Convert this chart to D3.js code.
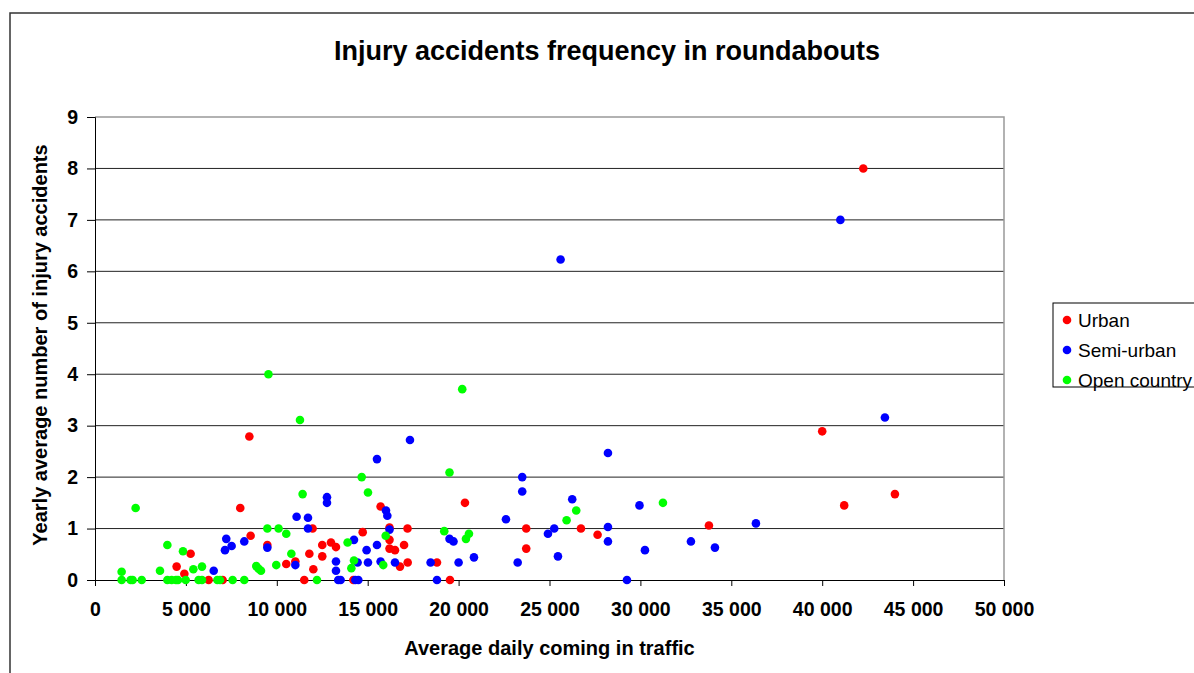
<!DOCTYPE html>
<script src="https://d3js.org/d3.v7.min.js"></script>
<body style="margin: 0; background: #fff;">
<svg id="chart" width="1194" height="673"></svg>
</body>

<style>
  text { font-family: "Liberation Sans", Arial, sans-serif; }
  .tick text { font-weight: bold; font-size: 19.5px; fill: #000; }
</style>

<script>

// traffic (vehicles/day), yearly accidents
var urban = [
  [8490, 2.79], [7990, 1.40], [11970, 1.00], [8560, 0.86], [5260, 0.51], [9480, 0.68],
  [11020, 0.36], [10520, 0.31], [11790, 0.51], [12500, 0.68], [12500, 0.46], [12980, 0.73],
  [13255, 0.64], [12010, 0.21], [4490, 0.26], [4915, 0.12], [6250, 0], [7020, 0], [11510, 0],
  [20350, 1.50], [15710, 1.43], [16200, 1.02], [17190, 1.00], [23720, 1.00], [14725, 0.93],
  [16200, 0.78], [16200, 0.61], [16500, 0.58], [17000, 0.68], [17200, 0.34], [16775, 0.26],
  [18810, 0.34], [23720, 0.61], [14210, 0], [19525, 0], [26730, 1.00], [27645, 0.88],
  [33770, 1.06], [42260, 8.00], [40000, 2.89], [44000, 1.67], [41210, 1.45]
];

var semiUrban = [
  [12760, 1.61], [12760, 1.50], [11090, 1.23], [11715, 1.21], [11715, 1.00], [7220, 0.80],
  [7515, 0.66], [7150, 0.58], [8210, 0.75], [9480, 0.63], [11020, 0.29], [13255, 0.36],
  [13255, 0.18], [6530, 0.18], [13380, 0], [17325, 2.72], [15510, 2.35], [23500, 2.00],
  [23500, 1.72], [26250, 1.57], [16005, 1.35], [16080, 1.25], [22605, 1.18], [16200, 0.98],
  [25260, 1.00], [24915, 0.90], [19500, 0.80], [19720, 0.75], [14245, 0.78], [15510, 0.68],
  [14940, 0.58], [14445, 0.34], [15015, 0.34], [15710, 0.36], [16500, 0.34], [18460, 0.34],
  [20000, 0.34], [20845, 0.44], [23250, 0.34], [25465, 0.46], [13510, 0], [14320, 0],
  [14485, 0], [18810, 0], [28215, 2.47], [28215, 1.03], [28215, 0.75], [29950, 1.45],
  [30250, 0.58], [29260, 0], [32780, 0.75], [34100, 0.63], [36355, 1.10], [43450, 3.16],
  [41000, 7.00], [25610, 6.23]
];

var openCountry = [
  [11275, 3.11], [2235, 1.40], [11420, 1.67], [9480, 1.00], [10100, 1.00], [10520, 0.90],
  [3980, 0.68], [4840, 0.56], [10800, 0.51], [9970, 0.29], [5885, 0.26], [5410, 0.21],
  [3575, 0.18], [1465, 0.16], [8870, 0.27], [9000, 0.22], [9130, 0.18],
  [1465, 0], [1960, 0], [2070, 0], [2570, 0], [3980, 0], [4215, 0], [4455, 0], [4565, 0],
  [4990, 0], [5700, 0], [5885, 0], [6730, 0], [6875, 0], [7570, 0], [8210, 0], [12210, 0],
  [20200, 3.71], [14670, 2.00], [19500, 2.09], [15015, 1.70], [25940, 1.16], [19210, 0.95],
  [20570, 0.90], [20405, 0.80], [15990, 0.86], [13895, 0.73], [14245, 0.38], [14100, 0.23],
  [15855, 0.29], [26470, 1.35], [31240, 1.50], [9540, 4.00]
];

var seriesNames = ["Urban", "Semi-urban", "Open country"];
var seriesColors = ["#ff0000", "#0000ff", "#00ff00"];
var xTicks = [0, 5000, 10000, 15000, 20000, 25000, 30000, 35000, 40000, 45000, 50000];
var yTicks = [0, 1, 2, 3, 4, 5, 6, 7, 8, 9];

var svg = d3.select("#chart");

var plotLeft = 95, plotRight = 1004, plotTop = 117, plotBottom = 580;

var x = d3.scaleLinear().domain([0, 50000]).range([plotLeft, plotRight]);
var y = d3.scaleLinear().domain([0, 9]).range([plotBottom, plotTop]);

// outer chart frame (cut off at right/bottom like the source)
svg.append("path")
   .attr("d", "M10,700V13H1200")
   .attr("fill", "none")
   .attr("stroke", "#333")
   .attr("stroke-width", 1.5);

svg.append("text")
   .attr("x", 607)
   .attr("y", 60)
   .attr("text-anchor", "middle")
   .style("font-weight", "bold")
   .style("font-size", "27px")
   .text("Injury accidents frequency in roundabouts");

// gridlines
svg.append("g")
   .selectAll("line")
   .data(yTicks.filter(function(d) { return d > 0 && d < 9; }))
   .join("line")
     .attr("x1", plotLeft).attr("x2", plotRight)
     .attr("y1", function(d) { return y(d); })
     .attr("y2", function(d) { return y(d); })
     .attr("stroke", "#222")
     .attr("stroke-width", 1);

// plot border top/right (grey)
svg.append("path")
   .attr("d", "M" + plotLeft + "," + plotTop + "H" + plotRight + "V" + plotBottom)
   .attr("fill", "none")
   .attr("stroke", "#999")
   .attr("stroke-width", 1.5);

var fmt = function(d) { return d === 0 ? "0" : d3.format(",")(d).replace(",", " "); };

svg.append("g")
   .attr("transform", "translate(0," + plotBottom + ")")
   .call(d3.axisBottom(x).tickValues(xTicks).tickFormat(fmt).tickSize(6).tickPadding(16))
   .call(function(g) { g.select(".domain").attr("stroke", "#000"); });

svg.append("g")
   .attr("transform", "translate(" + plotLeft + ",0)")
   .call(d3.axisLeft(y).tickValues(yTicks).tickSize(8).tickPadding(9))
   .call(function(g) { g.select(".domain").attr("stroke", "#000"); });

svg.append("text")
   .attr("x", (plotLeft + plotRight) / 2)
   .attr("y", 655)
   .attr("text-anchor", "middle")
   .style("font-weight", "bold")
   .style("font-size", "20px")
   .text("Average daily coming in traffic");

svg.append("text")
   .attr("transform", "translate(47," + 345 + ") rotate(-90)")
   .attr("text-anchor", "middle")
   .style("font-weight", "bold")
   .style("font-size", "20px")
   .text("Yearly average number of injury accidents");

// points
var allSeries = [urban, semiUrban, openCountry];
allSeries.forEach(function(data, i) {
  svg.append("g")
     .selectAll("circle")
     .data(data)
     .join("circle")
       .attr("cx", function(d) { return x(d[0]); })
       .attr("cy", function(d) { return y(d[1]); })
       .attr("r", 4.3)
       .attr("fill", seriesColors[i]);
});

// legend
var legend = svg.append("g").attr("transform", "translate(1053,303)");
legend.append("rect")
   .attr("width", 160).attr("height", 84)
   .attr("fill", "#fff").attr("stroke", "#000").attr("stroke-width", 1);

var item = legend.selectAll("g.item")
   .data(seriesNames)
   .join("g")
     .attr("class", "item")
     .attr("transform", function(d, i) { return "translate(0," + (17 + i * 30) + ")"; });

item.append("circle")
   .attr("cx", 14).attr("r", 4.3)
   .attr("fill", function(d, i) { return seriesColors[i]; });

item.append("text")
   .attr("x", 25).attr("dy", "0.35em")
   .style("font-size", "19px")
   .text(function(d) { return d; });

</script>
